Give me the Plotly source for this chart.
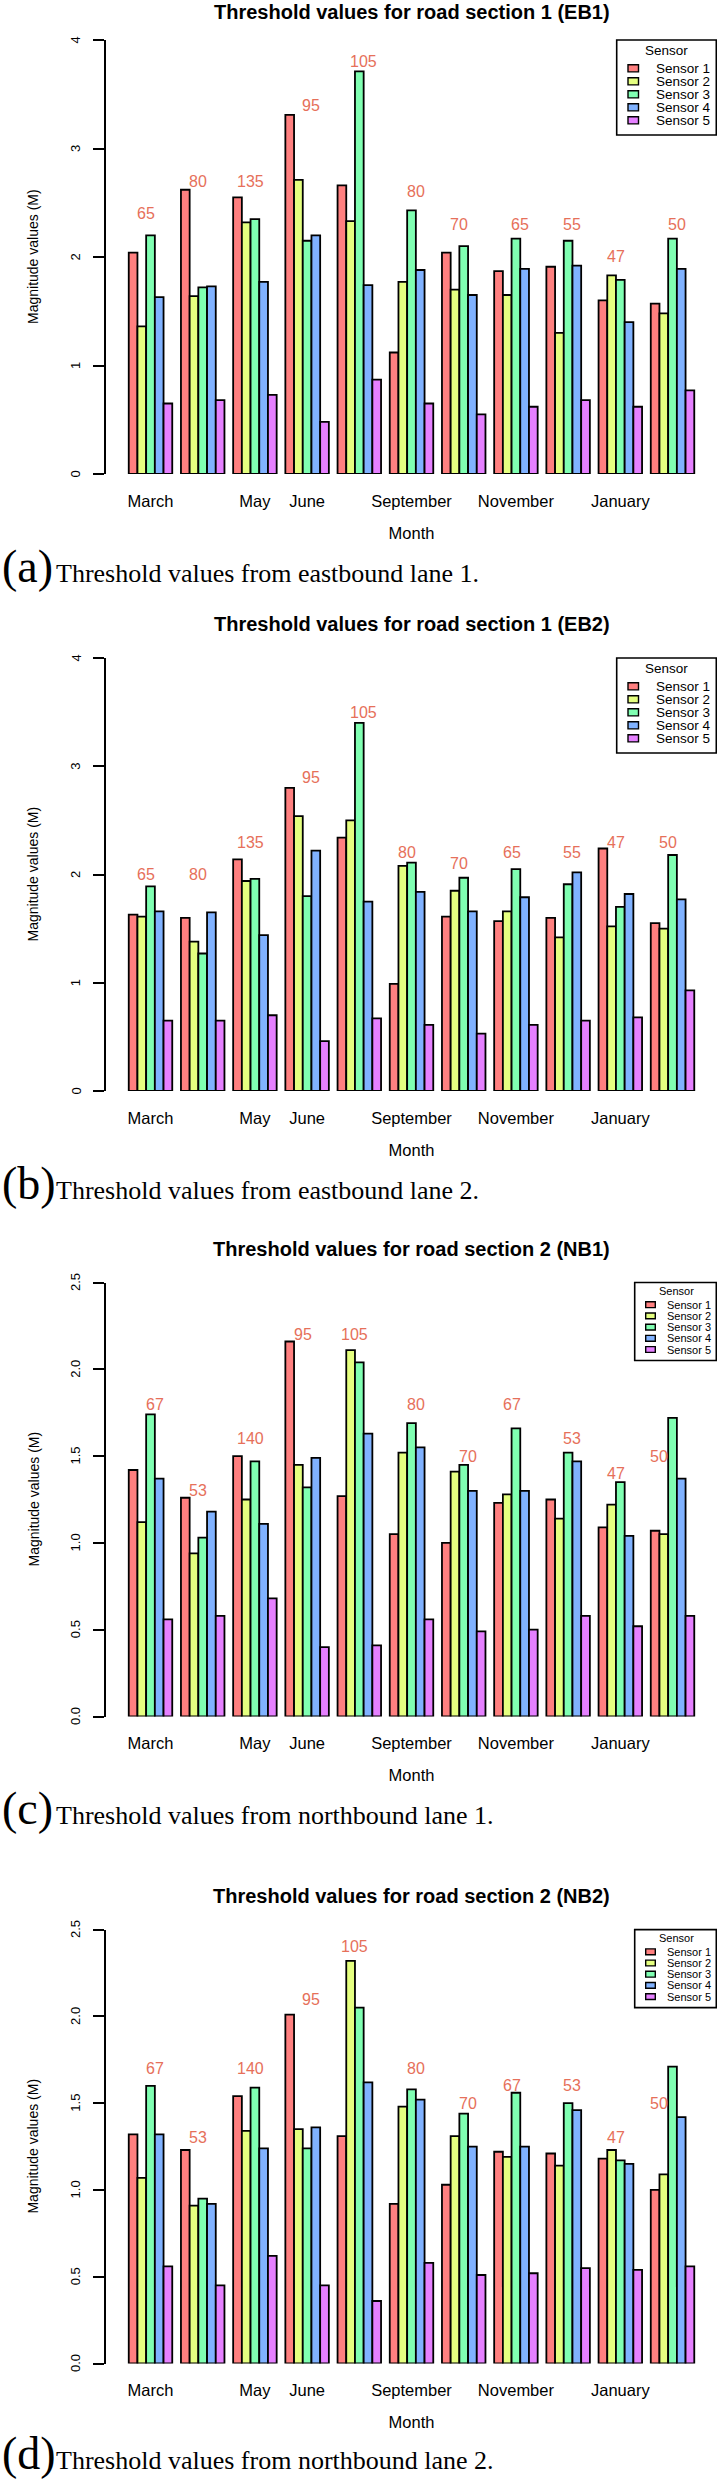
import plotly.graph_objects as go

W, H = 717, 2480

# ---------------- data ----------------
group_pos = list(range(11))
tick_labels = ["March", "", "May", "June", "", "September", "", "November", "", "January", ""]
sensor_names = ["Sensor 1", "Sensor 2", "Sensor 3", "Sensor 4", "Sensor 5"]
sensor_colors = ["#FF8080", "#E5FF80", "#80FFB2", "#80B2FF", "#E580FF"]

eb1_s1 = [2.04, 2.62, 2.55, 3.31, 2.66, 1.12, 2.04, 1.87, 1.91, 1.60, 1.57]
eb1_s2 = [1.36, 1.64, 2.32, 2.71, 2.33, 1.77, 1.70, 1.65, 1.30, 1.83, 1.48]
eb1_s3 = [2.20, 1.72, 2.35, 2.15, 3.71, 2.43, 2.10, 2.17, 2.15, 1.79, 2.17]
eb1_s4 = [1.63, 1.73, 1.77, 2.20, 1.74, 1.88, 1.65, 1.89, 1.92, 1.40, 1.89]
eb1_s5 = [0.65, 0.68, 0.73, 0.48, 0.87, 0.65, 0.55, 0.62, 0.68, 0.62, 0.77]
eb1_counts = ["65", "80", "135", "95", "105", "80", "70", "65", "55", "47", "50"]
eb1_count_y = [2.4, 2.7, 2.7, 3.4, 3.8, 2.6, 2.3, 2.3, 2.3, 2.0, 2.3]

eb2_s1 = [1.63, 1.60, 2.14, 2.80, 2.34, 0.99, 1.61, 1.57, 1.60, 2.24, 1.55]
eb2_s2 = [1.61, 1.38, 1.94, 2.54, 2.50, 2.08, 1.85, 1.66, 1.42, 1.52, 1.50]
eb2_s3 = [1.89, 1.27, 1.96, 1.80, 3.40, 2.11, 1.97, 2.05, 1.91, 1.70, 2.18]
eb2_s4 = [1.66, 1.65, 1.44, 2.22, 1.75, 1.84, 1.66, 1.79, 2.02, 1.82, 1.77]
eb2_s5 = [0.65, 0.65, 0.70, 0.46, 0.67, 0.61, 0.53, 0.61, 0.65, 0.68, 0.93]
eb2_counts = ["65", "80", "135", "95", "105", "80", "70", "65", "55", "47", "50"]
eb2_count_y = [2.0, 2.0, 2.3, 2.9, 3.5, 2.2, 2.1, 2.2, 2.2, 2.3, 2.3]

nb1_s1 = [1.42, 1.26, 1.50, 2.16, 1.27, 1.05, 1.00, 1.23, 1.25, 1.09, 1.07]
nb1_s2 = [1.12, 0.94, 1.25, 1.45, 2.11, 1.52, 1.41, 1.28, 1.14, 1.22, 1.05]
nb1_s3 = [1.74, 1.03, 1.47, 1.32, 2.04, 1.69, 1.45, 1.66, 1.52, 1.35, 1.72]
nb1_s4 = [1.37, 1.18, 1.11, 1.49, 1.63, 1.55, 1.30, 1.30, 1.47, 1.04, 1.37]
nb1_s5 = [0.56, 0.58, 0.68, 0.40, 0.41, 0.56, 0.49, 0.50, 0.58, 0.52, 0.58]
nb1_counts = ["67", "53", "140", "95", "105", "80", "70", "67", "53", "47", "50"]
nb1_count_y = [1.8, 1.3, 1.6, 2.2, 2.2, 1.8, 1.5, 1.8, 1.6, 1.4, 1.5]

nb2_s1 = [1.32, 1.23, 1.54, 2.01, 1.31, 0.92, 1.03, 1.22, 1.21, 1.18, 1.00]
nb2_s2 = [1.07, 0.91, 1.34, 1.35, 2.32, 1.48, 1.31, 1.19, 1.14, 1.23, 1.09]
nb2_s3 = [1.60, 0.95, 1.59, 1.24, 2.05, 1.58, 1.44, 1.56, 1.50, 1.17, 1.71]
nb2_s4 = [1.32, 0.92, 1.24, 1.36, 1.62, 1.52, 1.25, 1.25, 1.46, 1.15, 1.42]
nb2_s5 = [0.56, 0.45, 0.62, 0.45, 0.36, 0.58, 0.51, 0.52, 0.55, 0.54, 0.56]
nb2_counts = ["67", "53", "140", "95", "105", "80", "70", "67", "53", "47", "50"]
nb2_count_y = [1.7, 1.3, 1.7, 2.1, 2.4, 1.7, 1.5, 1.6, 1.6, 1.3, 1.5]

# ---------------- layout helpers ----------------
# horizontal nudge of each count label, in bar widths (layout only)
eb1_dx = [-0.5, -0.5, -0.5, 0.5, 0.5, 0.5, -0.5, 0.5, 0.5, -0.5, 0.5]
eb2_dx = [-0.5, -0.5, -0.5, 0.5, 0.5, -0.5, -0.5, -0.5, 0.5, -0.5, -0.5]
nb1_dx = [0.5, -0.5, -0.5, -0.5, -0.5, 0.5, 0.5, -0.5, 0.5, -0.5, -1.5]
nb2_dx = [0.5, -0.5, -0.5, 0.5, -0.5, 0.5, 0.5, -0.5, 0.5, -0.5, -1.5]

panels = [
    dict(title="Threshold values for road section 1 (EB1)", letter="(a)",
         caption="Threshold values from eastbound lane 1.",
         series=[eb1_s1, eb1_s2, eb1_s3, eb1_s4, eb1_s5], counts=eb1_counts,
         count_y=eb1_count_y, dx=eb1_dx, ymax=4, dtick=1, fmt="{:.0f}",
         top=40, bot=474, small_legend=False),
    dict(title="Threshold values for road section 1 (EB2)", letter="(b)",
         caption="Threshold values from eastbound lane 2.",
         series=[eb2_s1, eb2_s2, eb2_s3, eb2_s4, eb2_s5], counts=eb2_counts,
         count_y=eb2_count_y, dx=eb2_dx, ymax=4, dtick=1, fmt="{:.0f}",
         top=658, bot=1091, small_legend=False),
    dict(title="Threshold values for road section 2 (NB1)", letter="(c)",
         caption="Threshold values from northbound lane 1.",
         series=[nb1_s1, nb1_s2, nb1_s3, nb1_s4, nb1_s5], counts=nb1_counts,
         count_y=nb1_count_y, dx=nb1_dx, ymax=2.5, dtick=0.5, fmt="{:.1f}",
         top=1282.5, bot=1716.5, small_legend=True),
    dict(title="Threshold values for road section 2 (NB2)", letter="(d)",
         caption="Threshold values from northbound lane 2.",
         series=[nb2_s1, nb2_s2, nb2_s3, nb2_s4, nb2_s5], counts=nb2_counts,
         count_y=nb2_count_y, dx=nb2_dx, ymax=2.5, dtick=0.5, fmt="{:.1f}",
         top=1929.6, bot=2363.5, small_legend=True),
]

SANS = "Liberation Sans, Arial, Helvetica, sans-serif"
SERIF = "Liberation Serif, Times New Roman, serif"
LABEL_COLOR = "#E6705A"
X_LEFT_PX = 106
X_RANGE = [-0.8525, 10.852]


def px(xv):
    return xv / W


def py(yv):
    return 1 - yv / H


fig = go.Figure()
annotations = []
shapes = []
axes = {}

for p, pnl in enumerate(panels, start=1):
    sfx = "" if p == 1 else str(p)
    xa, ya = "x" + sfx, "y" + sfx
    for k in range(5):
        fig.add_trace(go.Bar(
            x=group_pos, y=pnl["series"][k], name=sensor_names[k],
            marker=dict(color=sensor_colors[k], line=dict(color="black", width=1.8)),
            xaxis=xa, yaxis=ya, showlegend=False,
        ))

    top, bot = pnl["top"], pnl["bot"]
    ticks_y = []
    v = 0.0
    while v <= pnl["ymax"] + 1e-9:
        ticks_y.append(round(v, 2))
        v += pnl["dtick"]

    axes["xaxis" + sfx] = dict(
        domain=[px(X_LEFT_PX), 1], range=X_RANGE, anchor=ya,
        tickvals=[i for i, t in zip(group_pos, tick_labels) if t],
        ticktext=[t for t in tick_labels if t],
        showline=False, ticks="", showgrid=False, zeroline=False,
        tickfont=dict(family=SANS, size=16.5, color="black"),
        ticklabelstandoff=15,
        title=dict(text="Month", font=dict(family=SANS, size=16.5, color="black"), standoff=18),
        automargin=False,
    )
    axes["yaxis" + sfx] = dict(
        domain=[py(bot), py(top)], range=[0, pnl["ymax"]], anchor=xa,
        tickvals=ticks_y, showticklabels=False,
        showline=True, linecolor="black", linewidth=1.8,
        ticks="outside", ticklen=11, tickwidth=1.8, tickcolor="black",
        showgrid=False, zeroline=False,
        automargin=False,
    )

    # y tick labels (rotated, R style) and y title
    for tv in ticks_y:
        annotations.append(dict(
            text=pnl["fmt"].format(tv), x=px(75.5), y=tv, xref="paper", yref=ya,
            xanchor="center", yanchor="middle", textangle=-90, showarrow=False,
            font=dict(family=SANS, size=13, color="black")))
    annotations.append(dict(
        text="Magnitude values (M)", x=px(33), y=py((top + bot) / 2),
        xref="paper", yref="paper", xanchor="center", yanchor="middle",
        textangle=-90, showarrow=False,
        font=dict(family=SANS, size=14, color="black")))

    # chart title
    annotations.append(dict(
        text="<b>" + pnl["title"] + "</b>", x=px(412), y=py(max(top - 34, 12)),
        xref="paper", yref="paper", xanchor="center", yanchor="middle",
        showarrow=False, font=dict(family=SANS, size=20, color="black")))

    # count labels
    for i, (txt, yv, d) in enumerate(zip(pnl["counts"], pnl["count_y"], pnl["dx"])):
        annotations.append(dict(
            text=txt, x=group_pos[i] + d / 6.0, y=yv, xref=xa, yref=ya,
            xanchor="center", yanchor="middle", showarrow=False,
            font=dict(family=SANS, size=16, color=LABEL_COLOR)))

    # legend box (drawn manually to mimic R legend)
    if pnl["small_legend"]:
        bx0, bx1, bh = 634.7, 716.3, 78
        title_dy, first_dy, step = 8.5, 22.2, 11.2
        sq0, sq1, sqh = 645.7, 655.3, 2.9
        tx, fs, tcx = 664.5, 11, 676.5
    else:
        bx0, bx1, bh = 616.7, 716.3, 95
        title_dy, first_dy, step = 10.5, 28.3, 13.0
        sq0, sq1, sqh = 628.0, 638.5, 3.6
        tx, fs, tcx = 654.0, 13.5, 666.7
    shapes.append(dict(type="rect", xref="paper", yref="paper",
                       x0=px(bx0), x1=px(bx1), y0=py(top), y1=py(top + bh),
                       line=dict(color="black", width=1.6), fillcolor="white", layer="above"))
    annotations.append(dict(
        text="Sensor", x=px(tcx), y=py(top + title_dy), xref="paper", yref="paper",
        xanchor="center", yanchor="middle", showarrow=False,
        font=dict(family=SANS, size=fs, color="black")))
    for k in range(5):
        cy = top + first_dy + step * k
        shapes.append(dict(type="rect", xref="paper", yref="paper",
                           x0=px(sq0), x1=px(sq1), y0=py(cy - sqh), y1=py(cy + sqh),
                           line=dict(color="black", width=1.4), fillcolor=sensor_colors[k], layer="above"))
        annotations.append(dict(
            text=sensor_names[k], x=px(tx), y=py(cy), xref="paper", yref="paper",
            xanchor="left", yanchor="middle", showarrow=False,
            font=dict(family=SANS, size=fs, color="black")))

    # caption below the chart
    base = min(bot + 108, H - 11)
    annotations.append(dict(
        text=pnl["letter"], x=0, y=py(base - 0.3375 * 46), xref="paper", yref="paper",
        xanchor="left", yanchor="middle", showarrow=False,
        font=dict(family=SERIF, size=46, color="black")))
    annotations.append(dict(
        text=pnl["caption"], x=px(54), y=py(base - 0.3375 * 26), xref="paper", yref="paper",
        xanchor="left", yanchor="middle", showarrow=False,
        font=dict(family=SERIF, size=26, color="black")))

fig.update_layout(
    width=W, height=H,
    margin=dict(l=0, r=0, t=0, b=0, pad=0, autoexpand=False),
    paper_bgcolor="white", plot_bgcolor="white",
    barmode="group", bargap=1 / 6, bargroupgap=0,
    showlegend=False,
    annotations=annotations, shapes=shapes,
    **axes,
)

fig.write_html(
    "out.html",
    config={"displayModeBar": False},
    post_script="document.body.style.margin='0';document.body.style.overflow='hidden';",
)
